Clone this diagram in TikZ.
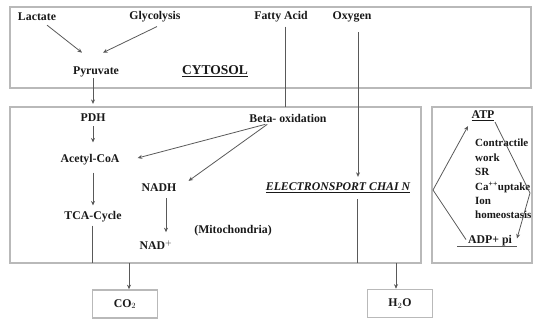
\documentclass[tikz,border=0pt]{standalone}
\usepackage{fontspec}
\setmainfont{Liberation Serif}
\usetikzlibrary{arrows.meta}
\begin{document}
\begin{tikzpicture}[x=1pt,y=-1pt,
  lbl/.style={font=\bfseries\fontsize{11.8}{13}\selectfont, inner sep=1pt, text=black!90},
  bigbox/.style={draw=gray!55, line width=1.6pt},
  conn/.style={draw=gray!70!black, line width=0.8pt},
  arr/.style={conn, -{Stealth[length=4.5pt,width=4pt]}},
  outbox/.style={lbl, draw=gray!55, line width=1.6pt, minimum width=65pt, minimum height=28pt}]
\useasboundingbox (0,0) rectangle (535,320);
% boxes
\draw[bigbox] (10,7) rectangle (531,88);
\draw[bigbox] (10,107) rectangle (421,263);
\draw[bigbox] (432,107) rectangle (532,263);
\coordinate (mb) at (0,263);
\coordinate (mt) at (0,107);
% cytosol labels
\node[lbl] (lac) at (37,17) {Lactate};
\node[lbl] (gly) at (155,17) {Glycolysis};
\node[lbl] (fa) at (281,17) {Fatty Acid};
\node[lbl] (oxy) at (352,17) {Oxygen};
\node[lbl] (pyr) at (96,72) {Pyruvate};
\node[lbl, font=\bfseries\fontsize{13.5}{15}\selectfont] (cyt) at (215,71) {\underline{CYTOSOL}};
% mitochondria labels
\node[lbl] (pdh) at (93,118) {PDH};
\node[lbl] (beta) at (288,118) {Beta- oxidation};
\node[lbl] (acoa) at (90,160) {Acetyl-CoA};
\node[lbl] (tca) at (93,217) {TCA-Cycle};
\node[lbl] (nadh) at (159,188) {NADH};
\node[lbl] (nad) at (156,245) {NAD$^+$};
\node[lbl] (mito) at (233,231) {(Mitochondria)};
\node[lbl, font=\bfseries\itshape\fontsize{11.8}{13}\selectfont] (etc) at (338,188) {\underline{ELECTRONSPORT CHAI N}};
% outputs
\node[outbox] (co2) at (125,304) {CO$_2$};
\node[outbox] (h2o) at (400,303.5) {H$_2$O};
% ATP box
\node[lbl] (atp) at (483,116) {\underline{ATP}};
\node[lbl] (adp) at (490,241) {ADP+ pi};
\draw[conn, line width=0.6pt] ([xshift=-33pt,yshift=1pt]adp.south) -- ([xshift=27pt,yshift=1pt]adp.south);
\node[lbl, font=\bfseries\fontsize{11}{14.4}\selectfont, align=left, anchor=north west] (work) at (474,138)
  {Contractile\\work\\SR\\Ca\textsuperscript{++}uptake\\Ion\\homeostasis};
\coordinate (dl) at (433,190);
\coordinate (dr) at (530,193);
\draw[arr] (dl) -- ([xshift=-15pt,yshift=-4pt]atp.south);
\draw[conn] (dl) -- ([xshift=-24pt,yshift=8pt]adp.south);
\draw[arr] ([xshift=12pt]atp.south) -- (dr) -- ([xshift=27pt,yshift=-4pt]adp.north);
% cytosol arrows
\draw[arr] ([xshift=10pt,yshift=-3pt]lac.south) -- ([xshift=-14pt,yshift=13pt]pyr.north);
\draw[arr] ([xshift=2pt,yshift=-3pt]gly.south) -- ([xshift=7pt,yshift=13pt]pyr.north);
\draw[arr] ([xshift=-3pt]pyr.south) -- ([yshift=9pt]pdh.north);
\draw[conn] ([xshift=4pt,yshift=-3pt]fa.south) -- ([xshift=4pt]fa.south |- mt);
\draw[arr] ([xshift=6pt,yshift=-9pt]oxy.south) -- ([xshift=20pt,yshift=5pt]etc.north);
% mitochondria arrows
\draw[arr] ([yshift=-3pt]pdh.south) -- ([xshift=3pt,yshift=11pt]acoa.north);
\draw[arr] ([xshift=3pt,yshift=-6pt]acoa.south) -- ([yshift=5pt]tca.north);
\draw[arr] ([xshift=17pt,yshift=-1pt]beta.south west) -- ([xshift=17pt,yshift=2pt]acoa.east);
\draw[arr] ([xshift=19pt,yshift=-1pt]beta.south west) -- ([xshift=11pt,yshift=2pt]nadh.north east);
\draw[arr] ([xshift=7pt,yshift=-5pt]nadh.south) -- ([xshift=10pt,yshift=7pt]nad.north);
\draw[conn] ([xshift=-1pt,yshift=-2pt]tca.south) -- ([xshift=-1pt]tca.south |- mb);
\draw[conn] ([xshift=19pt,yshift=-5pt]etc.south) -- ([xshift=19pt]etc.south |- mb);
\draw[arr] ([xshift=4pt]co2.north |- mb) -- ([xshift=4pt]co2.north);
\draw[arr] ([xshift=-4pt]h2o.north |- mb) -- ([xshift=-4pt]h2o.north);
\end{tikzpicture}
\end{document}
